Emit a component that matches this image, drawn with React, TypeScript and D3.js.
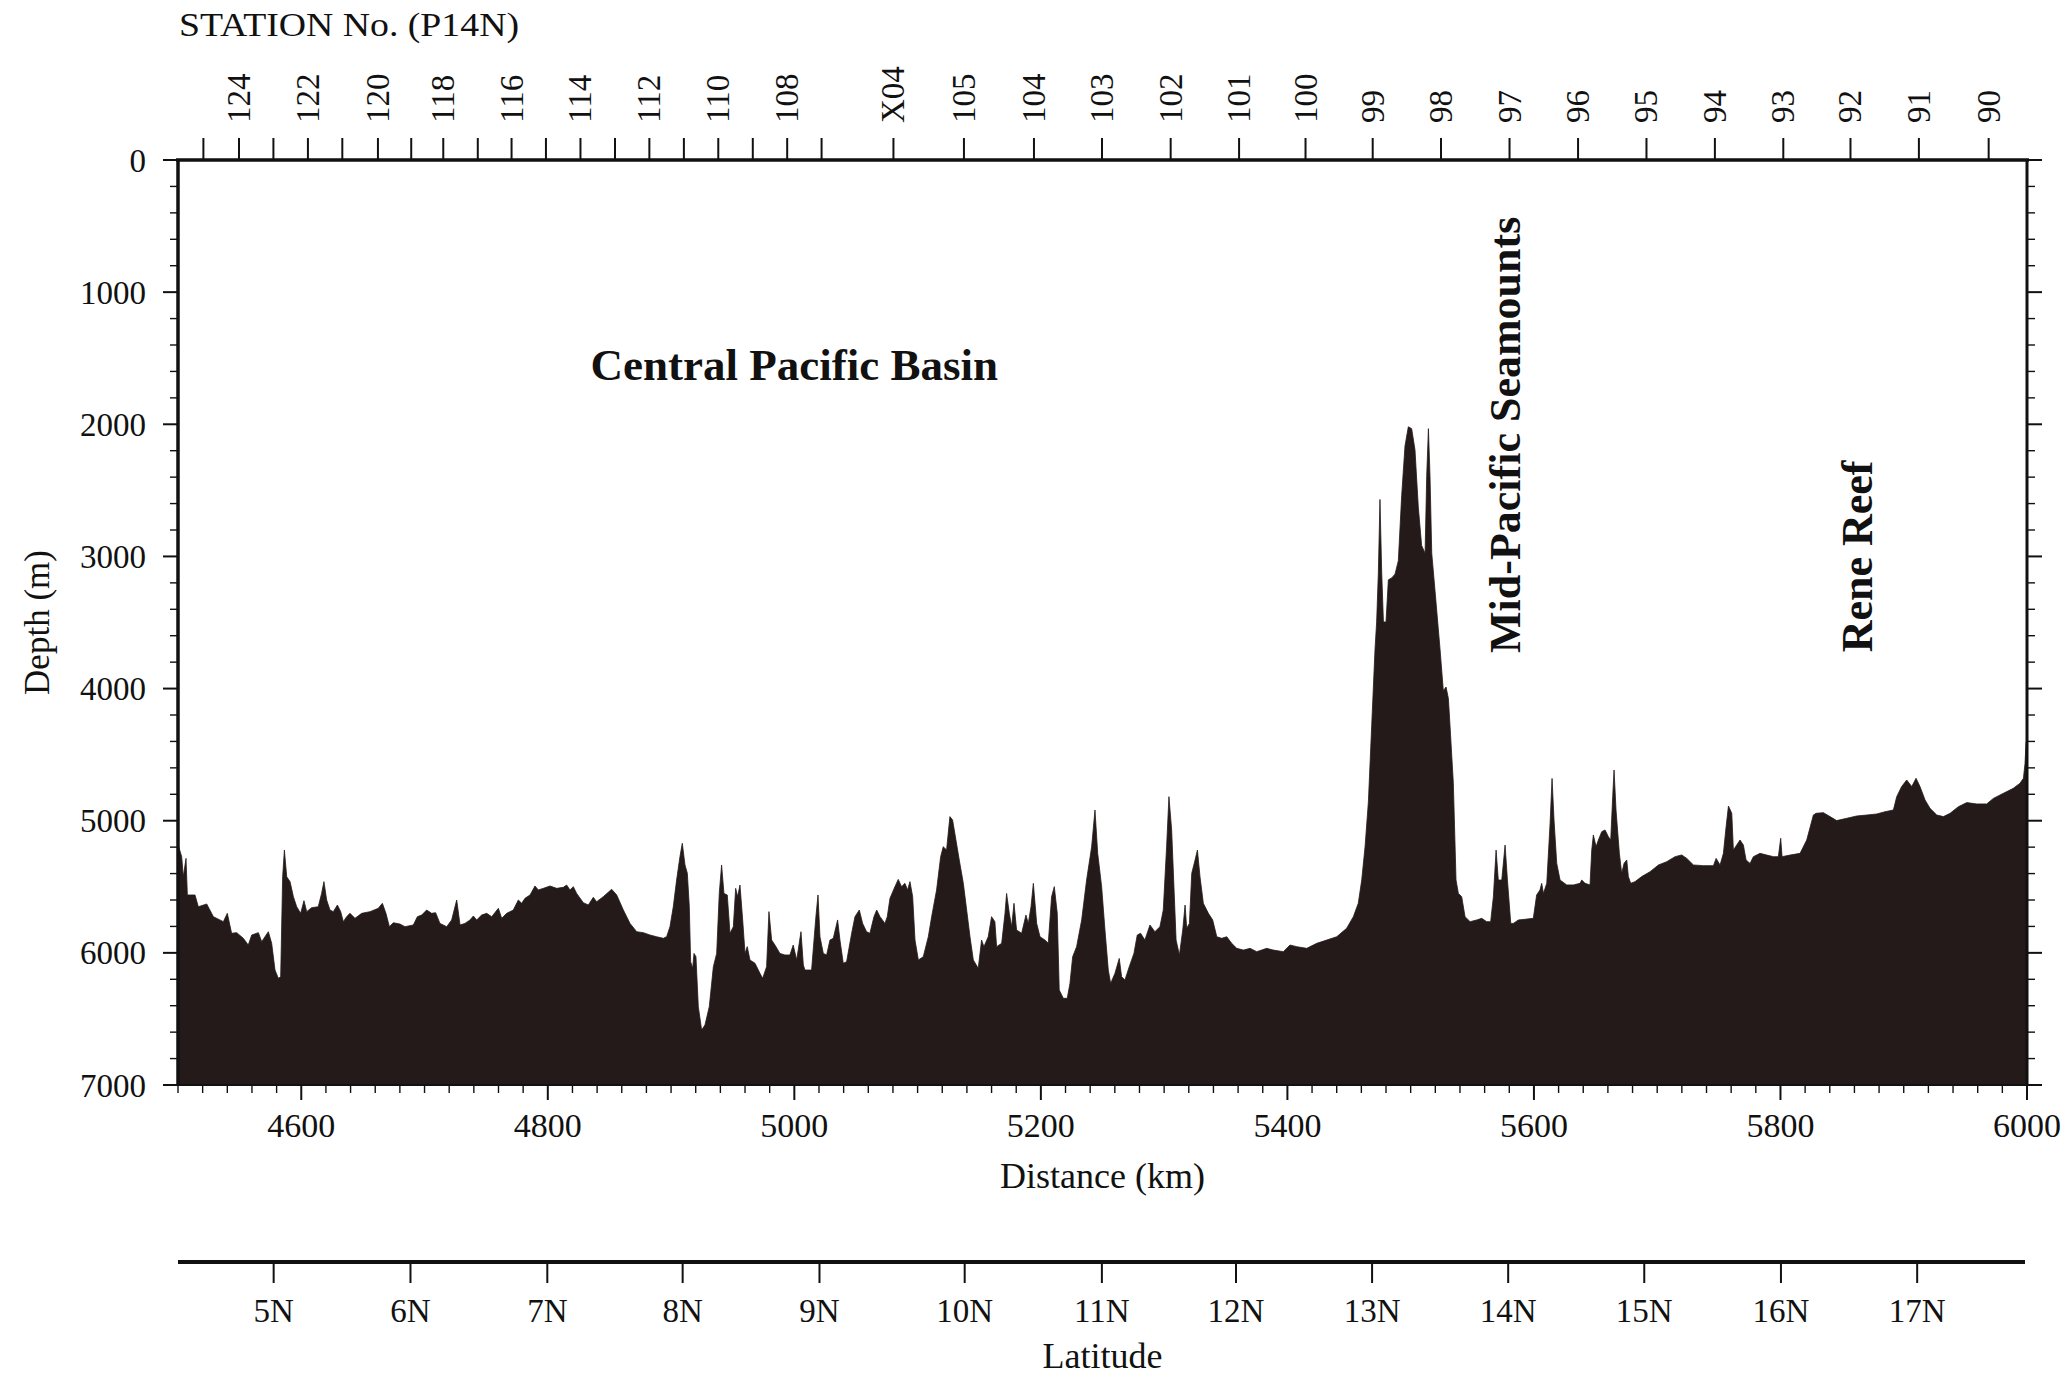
import React from 'react';
import * as d3 from 'd3';

// ---------- data ----------
const bathymetry: [number, number][] = [
  [4500,5180],[4503,5272],[4504.3,5424],[4506.5,5285],[4507.6,5562],[4513.8,5562],[4516.5,5651],[4523.3,5630],
  [4528.7,5726],[4536.8,5764],[4540,5701],[4543.5,5852],[4547.6,5847],[4553,5890],[4557,5941],[4559.8,5865],
  [4565.2,5847],[4567.9,5915],[4573.3,5840],[4576,5928],[4578.7,6130],[4581.4,6193],[4583.3,6180],[4584.9,5424],
  [4586.3,5222],[4588.2,5424],[4590.9,5461],[4593.6,5575],[4596.3,5651],[4599.5,5701],[4602.2,5605],[4604.4,5688],
  [4608.4,5658],[4613.8,5651],[4616.5,5550],[4618.4,5461],[4620.6,5600],[4623.3,5676],[4626,5688],[4629.3,5638],
  [4632,5688],[4634.1,5764],[4636.8,5726],[4639.5,5701],[4643.6,5739],[4649,5701],[4655.8,5688],[4662.5,5663],
  [4665.8,5625],[4668.7,5701],[4671.5,5802],[4674.7,5772],[4680.1,5782],[4684.1,5802],[4690.9,5789],[4694.2,5726],
  [4697.7,5714],[4701.7,5676],[4705.8,5701],[4709,5696],[4712.5,5777],[4718,5802],[4722,5751],[4726.1,5600],
  [4728.8,5789],[4732.8,5777],[4736.9,5751],[4739.6,5721],[4742.3,5751],[4746.3,5714],[4750.4,5701],[4754.5,5726],
  [4759.9,5663],[4762.6,5739],[4766.6,5701],[4772,5676],[4776.1,5600],[4778.8,5625],[4781.5,5587],[4785.6,5562],
  [4789.6,5494],[4792.3,5524],[4796.4,5512],[4801.8,5494],[4807.2,5512],[4812.6,5504],[4815.3,5487],[4818,5524],
  [4820.7,5499],[4823.4,5550],[4828.8,5620],[4832.9,5638],[4836.9,5580],[4839.6,5613],[4845,5575],[4851.8,5519],
  [4855.9,5562],[4861.3,5676],[4866.7,5777],[4872.1,5840],[4877.5,5847],[4882.9,5865],[4888.3,5878],[4893.7,5890],
  [4896.4,5878],[4899.1,5802],[4901.8,5651],[4904.5,5449],[4907.2,5272],[4909.1,5171],[4911.3,5335],[4913.2,5398],
  [4914.8,5651],[4915.9,6067],[4917.5,6117],[4918.6,6004],[4920.2,6029],[4922.1,6407],[4924.8,6584],[4927.5,6546],
  [4931,6407],[4934.3,6105],[4937,6004],[4939.1,5550],[4941,5335],[4942.9,5550],[4945.6,5562],[4947.8,5852],
  [4950.5,5802],[4952.4,5512],[4954,5575],[4955.9,5487],[4958.1,5751],[4960,6004],[4961.8,5953],[4964,6054],
  [4968.1,6079],[4972.1,6155],[4974.3,6193],[4977.5,6105],[4979.4,5688],[4981.6,5903],[4984.3,5941],[4988.3,6004],
  [4992.4,6016],[4996.4,6016],[4999.1,5941],[5001.9,6054],[5005.4,5840],[5007.3,6092],[5008.6,6130],[5014,6130],
  [5017.5,5726],[5019.2,5562],[5020.8,5878],[5023.5,6004],[5026.2,6016],[5028.9,5903],[5031.6,5890],[5035.1,5751],
  [5037,5903],[5039.7,6079],[5042.4,6067],[5046.5,5852],[5049.2,5726],[5052.7,5676],[5055.4,5777],[5058.6,5840],
  [5061.3,5852],[5064.6,5726],[5066.8,5676],[5069.5,5726],[5073.5,5777],[5075.4,5726],[5077.6,5587],[5081.6,5499],
  [5084.3,5444],[5087,5499],[5089.7,5474],[5091.9,5524],[5093.8,5461],[5096,5575],[5097.9,5903],[5100.6,6054],
  [5104.6,6029],[5108.7,5878],[5111.4,5726],[5115.4,5524],[5118.7,5272],[5120.8,5197],[5123.5,5222],[5126.2,4969],
  [5128.4,4995],[5131.1,5146],[5133.8,5297],[5137.1,5474],[5139.8,5676],[5142.5,5878],[5145.2,6054],[5149.2,6117],
  [5151.9,5903],[5153.8,5953],[5157.3,5878],[5160,5726],[5162.7,5764],[5164.1,5953],[5168.2,5928],[5170.9,5701],
  [5172.2,5550],[5174.4,5701],[5176.3,5802],[5178.2,5625],[5180.3,5827],[5184.4,5852],[5187.9,5714],[5189.8,5777],
  [5192,5651],[5193.9,5474],[5196.6,5777],[5199.3,5878],[5203.3,5903],[5206,5928],[5208.7,5575],[5210.9,5499],
  [5213.3,5701],[5214.9,6281],[5218.2,6344],[5221.4,6344],[5223.6,6231],[5225.8,6029],[5229,5953],[5233.1,5751],
  [5237.1,5449],[5241.2,5197],[5243.9,4919],[5246.1,5247],[5249.3,5499],[5252,5827],[5254.7,6130],[5256.6,6231],
  [5260.1,6155],[5263.6,6042],[5265.5,6180],[5268.2,6205],[5271.7,6105],[5275.5,6004],[5278.2,5865],[5280.9,5852],
  [5284.4,5903],[5288.5,5789],[5292.5,5840],[5296.6,5802],[5299.3,5676],[5302,5197],[5303.9,4818],[5306.1,5070],
  [5309.7,5903],[5312.4,6016],[5315.1,5827],[5317,5638],[5318.3,5814],[5320.5,5777],[5322.4,5398],[5325.1,5297],
  [5327,5222],[5329.1,5424],[5331.8,5625],[5335.9,5701],[5339.4,5751],[5342.7,5878],[5346.7,5890],[5350.8,5878],
  [5354.8,5928],[5358.9,5966],[5364.3,5979],[5369.7,5966],[5375.1,5991],[5383.2,5966],[5388.6,5979],[5396.7,5991],
  [5402.1,5941],[5407.6,5953],[5415.7,5966],[5423.8,5928],[5431.9,5903],[5440,5878],[5448.1,5814],[5453.5,5726],
  [5457.5,5625],[5460.3,5449],[5463,5197],[5465.7,4857],[5468.4,4278],[5471.1,3699],[5472.4,3496],[5473.8,3119],
  [5475.1,2569],[5476.5,3119],[5477.9,3496],[5480,3496],[5481.9,3177],[5484.6,3163],[5487.3,3134],[5490,3032],
  [5492.7,2540],[5495.4,2164],[5498.1,2019],[5500.8,2033],[5503.5,2193],[5506.2,2627],[5508.9,2917],[5511.7,2975],
  [5513,2395],[5514.4,2033],[5515.7,2395],[5517.1,2975],[5519.8,3264],[5523.8,3699],[5526.5,4017],[5528.7,3988],
  [5530.6,4075],[5531.9,4278],[5534.6,4712],[5536.8,5449],[5538.7,5550],[5541.4,5575],[5544.1,5726],[5548.2,5764],
  [5553.6,5751],[5557.6,5739],[5561.7,5764],[5564.9,5764],[5567.1,5575],[5569.3,5222],[5571.1,5449],[5573.9,5449],
  [5576.6,5184],[5578.5,5449],[5581.2,5777],[5583.3,5777],[5587.4,5751],[5592.8,5746],[5599.5,5739],[5602.2,5562],
  [5604.9,5524],[5606.3,5474],[5607.7,5550],[5610.4,5474],[5613.1,5020],[5614.7,4680],[5616.3,4995],[5618.5,5323],
  [5621.2,5449],[5626.6,5486],[5632,5486],[5637.4,5474],[5638.8,5449],[5641.5,5474],[5645.5,5486],[5646.9,5222],
  [5648.2,5108],[5650.4,5196],[5652.3,5146],[5655,5083],[5657.7,5070],[5660.4,5121],[5662.3,5146],[5663.9,4818],
  [5665,4616],[5666.6,4919],[5669.3,5247],[5671.2,5398],[5673.1,5323],[5675.3,5297],[5676.6,5423],[5678.5,5474],
  [5682,5461],[5687.4,5423],[5694.2,5386],[5701,5335],[5707.7,5310],[5714.5,5272],[5719.9,5259],[5724,5285],
  [5729.4,5335],[5737.5,5340],[5745.6,5340],[5747.8,5285],[5751,5335],[5753.7,5247],[5755.9,5045],[5757.8,4889],
  [5760.5,4944],[5761.8,5222],[5764.5,5184],[5767.2,5146],[5769.9,5184],[5772.1,5297],[5775.3,5323],[5778,5272],
  [5783.4,5247],[5788.9,5260],[5794.3,5272],[5798.3,5272],[5800.2,5133],[5801.3,5272],[5807.8,5260],[5815.9,5247],
  [5821.3,5146],[5826.7,4957],[5828.9,4944],[5834.8,4939],[5840.2,4969],[5845.6,4999],[5853.7,4982],[5861.9,4964],
  [5870,4957],[5878.1,4949],[5884.8,4932],[5891.6,4919],[5894.3,4818],[5898.3,4742],[5902.4,4692],[5906.5,4742],
  [5910,4679],[5913.2,4742],[5917.3,4843],[5921.3,4906],[5926.8,4957],[5932.2,4969],[5937.6,4944],[5944.3,4894],
  [5951.1,4863],[5959.2,4873],[5967.3,4873],[5972.7,4831],[5980.8,4793],[5988.9,4755],[5994.3,4717],[5997.1,4679],
  [5998.4,4566],[5999.2,4414],[6000,4380],
];

const stationNames = ['125','124','123','122','121','120','119','118','117','116','115','114','113','112','111','110','109','108','107','X04','105','104','103','102','101','100','99','98','97','96','95','94','93','92','91','90'];
const stationKm = [4520.6,4549.5,4577.4,4605.4,4633.3,4662.2,4689.2,4715.2,4743.2,4770.6,4798.5,4826.5,4854.5,4882.4,4910.4,4938.3,4966.3,4994.2,5022.1,5080.4,5137.6,5194.4,5249.6,5305.3,5360.8,5414.7,5469.2,5524.6,5580.2,5635.8,5691.3,5746.8,5802.3,5856.8,5912.3,5968.9];
const stationLabeled = [false,true,false,true,false,true,false,true,false,true,false,true,false,true,false,true,false,true,false,true,true,true,true,true,true,true,true,true,true,true,true,true,true,true,true,true];

const latLabels = ['5N','6N','7N','8N','9N','10N','11N','12N','13N','14N','15N','16N','17N'];
const latKm = [4577.6,4688.6,4799.6,4909.4,5020.4,5138.2,5249.5,5358.3,5468.7,5579.1,5689.5,5800.4,5910.9];

const distanceTicks = [4600,4800,5000,5200,5400,5600,5800,6000];
const depthTicks = [0,1000,2000,3000,4000,5000,6000,7000];

const annotations = [
  { text: 'Central Pacific Basin', km: 5000, depth: 1665, rotate: false },
  { text: 'Mid-Pacific Seamounts', km: 5588.5, depth: 2080, rotate: true },
  { text: 'Rene Reef', km: 5874.5, depth: 3000, rotate: true },
];

// ---------- layout ----------
const W = 2072;
const H = 1378;
const L = 178, R = 2027, T = 160, B = 1085;
const FONT = '"Liberation Serif", "Times New Roman", Times, serif';
const INK = '#111';
const FILL = '#231a19';

export default function App() {
  const x = d3.scaleLinear().domain([4500, 6000]).range([L, R]);
  const y = d3.scaleLinear().domain([0, 7000]).range([T, B]);

  const area = d3.area<[number, number]>()
    .x(d => x(d[0]))
    .y0(y(7000))
    .y1(d => y(d[1]))
    .curve(d3.curveLinear);

  const minorX = d3.range(4500, 6000.1, 20);
  const minorY = d3.range(0, 7000.1, 200);
  const latY = 1262;

  return (
    <svg width={W} height={H} viewBox={`0 0 ${W} ${H}`}
      style={{ position: 'absolute', left: 0, top: 0, background: '#fff' }}
      fontFamily={FONT}>
      <rect x={0} y={0} width={W} height={H} fill="#fff" />

      {/* profile */}
      <path d={area(bathymetry) || ''} fill={FILL} stroke={FILL} strokeWidth={0.8} />

      {/* bottom distance ticks */}
      {minorX.map(v => {
        const major = v % 200 === 0;
        return <line key={'bx' + v} x1={x(v)} x2={x(v)} y1={B} y2={B + (major ? 15 : 8)} stroke={INK} strokeWidth={major ? 2 : 1.4} />;
      })}
      {distanceTicks.map(v => (
        <text key={'bl' + v} x={x(v)} y={1137} fontSize={34} textAnchor="middle" fill={INK}>{v}</text>
      ))}

      {/* depth ticks left & right */}
      {minorY.map(v => {
        const major = v % 1000 === 0;
        const len = major ? 15 : 8;
        return (
          <g key={'dy' + v}>
            <line x1={L - len} x2={L} y1={y(v)} y2={y(v)} stroke={INK} strokeWidth={major ? 2 : 1.4} />
            <line x1={R} x2={R + len} y1={y(v)} y2={y(v)} stroke={INK} strokeWidth={major ? 2 : 1.4} />
          </g>
        );
      })}
      {depthTicks.map(v => (
        <text key={'dl' + v} x={146} y={y(v)} dy="0.35em" fontSize={33} textAnchor="end" fill={INK}>{v}</text>
      ))}

      {/* frame */}
      <line x1={L - 2} x2={R + 2} y1={T} y2={T} stroke={INK} strokeWidth={3.5} />
      <line x1={L} x2={L} y1={T} y2={B} stroke={INK} strokeWidth={3.5} />
      <line x1={R} x2={R} y1={T} y2={B} stroke={INK} strokeWidth={3} />
      <line x1={L} x2={R} y1={B} y2={B} stroke={INK} strokeWidth={2} />

      {/* station axis */}
      {stationKm.map((k, i) => (
        <g key={'st' + i}>
          <line x1={x(k)} x2={x(k)} y1={T - 22} y2={T} stroke={INK} strokeWidth={2} />
          {stationLabeled[i] && (
            <text transform={`translate(${x(k) + 11},123) rotate(-90)`} fontSize={33} textAnchor="start" fill={INK}>
              {stationNames[i]}
            </text>
          )}
        </g>
      ))}
      <text x={179} y={36} fontSize={33} fill={INK} textLength={340} lengthAdjust="spacingAndGlyphs">STATION No. (P14N)</text>

      {/* axis titles */}
      <text x={(L + R) / 2} y={1188} fontSize={36} textAnchor="middle" fill={INK}>Distance (km)</text>
      <text transform={`translate(49,${(T + B) / 2}) rotate(-90)`} fontSize={35} textAnchor="middle" fill={INK}>Depth (m)</text>

      {/* latitude axis */}
      <line x1={L} x2={2025} y1={latY} y2={latY} stroke={INK} strokeWidth={4} />
      {latKm.map((k, i) => (
        <g key={'lat' + i}>
          <line x1={x(k)} x2={x(k)} y1={latY} y2={latY + 21} stroke={INK} strokeWidth={2} />
          <text x={x(k)} y={1322} fontSize={33} textAnchor="middle" fill={INK}>{latLabels[i]}</text>
        </g>
      ))}
      <text x={(L + R) / 2} y={1368} fontSize={36} textAnchor="middle" fill={INK}>Latitude</text>

      {/* annotations */}
      {annotations.map(a => a.rotate ? (
        <text key={a.text} transform={`translate(${x(a.km)},${y(a.depth)}) rotate(-90)`} fontSize={44} fontWeight="bold" textAnchor="middle" fill={INK}>{a.text}</text>
      ) : (
        <text key={a.text} x={x(a.km)} y={y(a.depth)} fontSize={45} fontWeight="bold" textAnchor="middle" fill={INK}>{a.text}</text>
      ))}
    </svg>
  );
}
